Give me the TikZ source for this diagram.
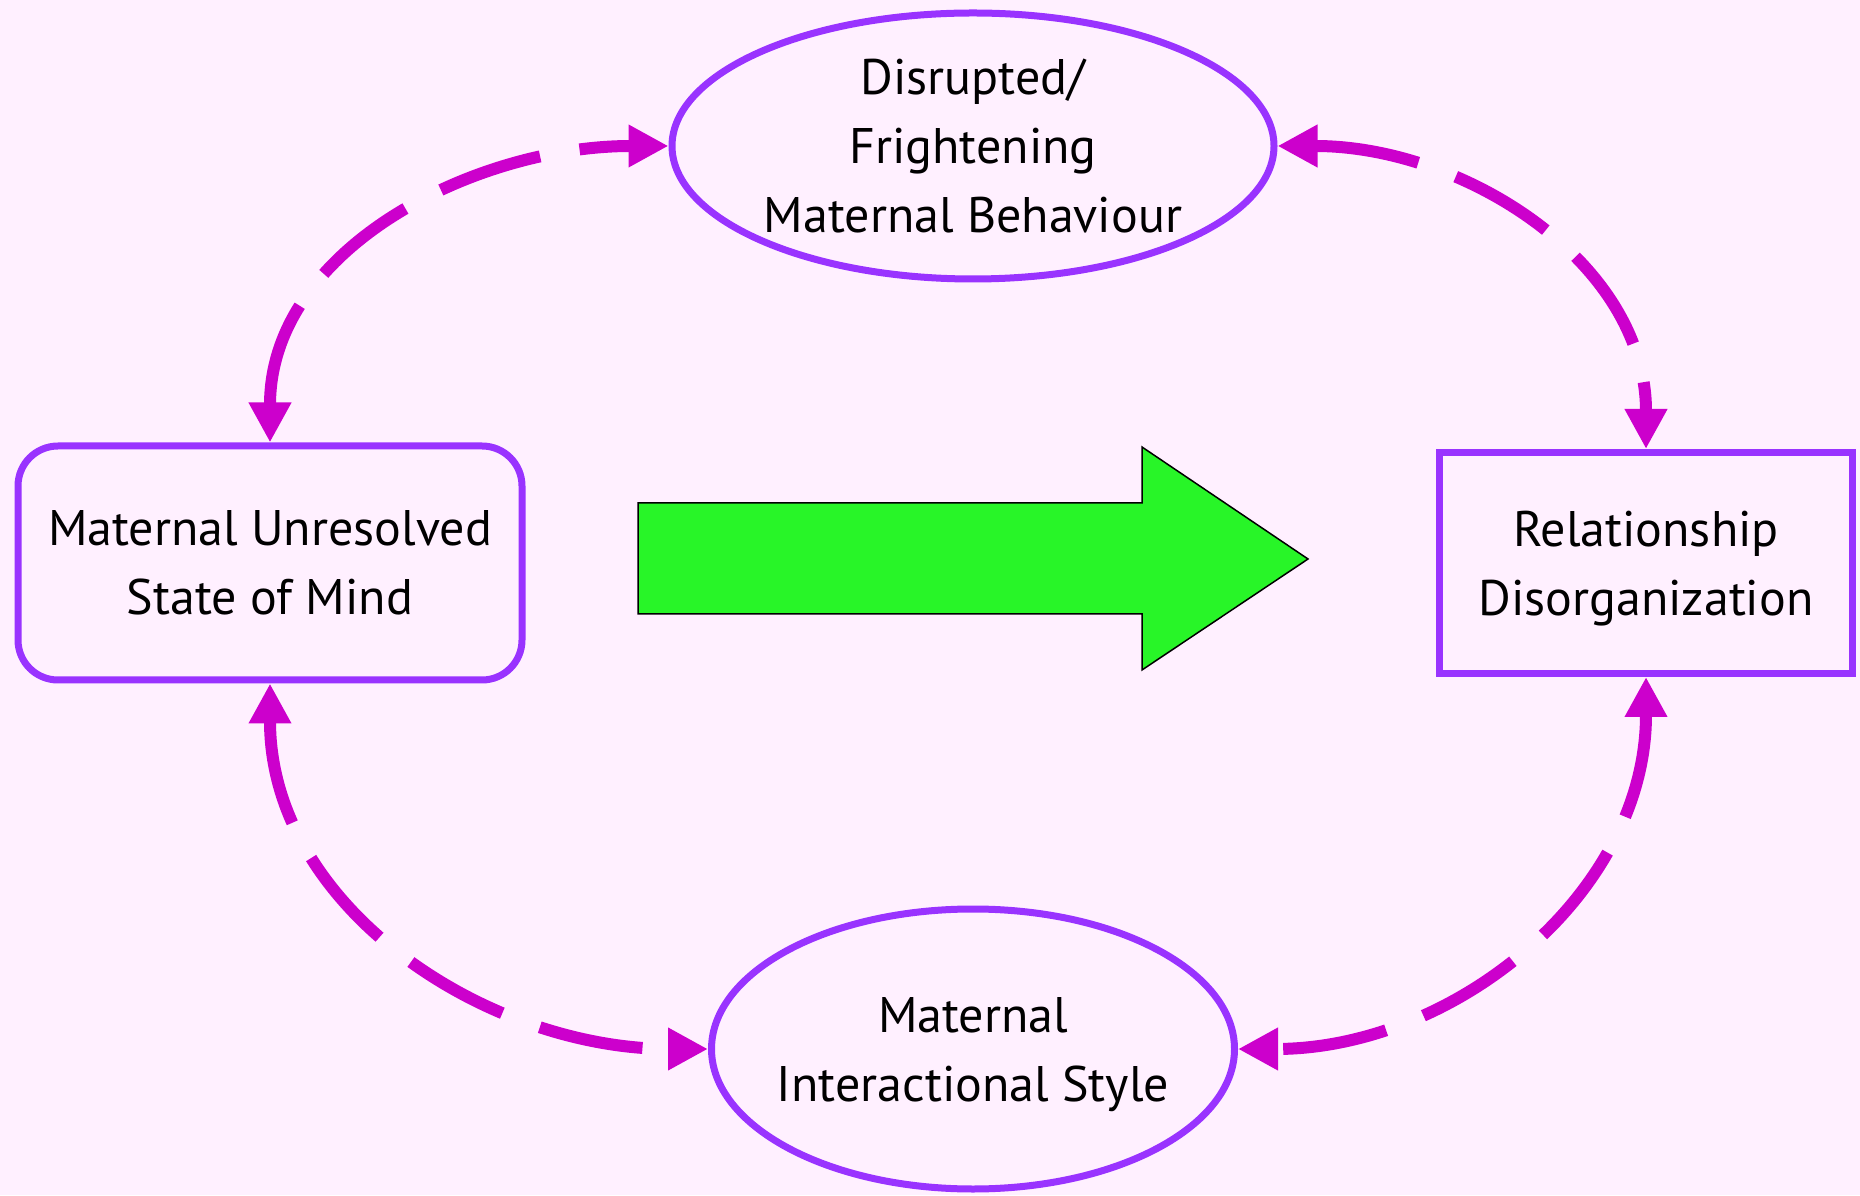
\documentclass[tikz,border=0pt]{standalone}
\usepackage{fontspec}
\setmainfont{PT Sans}
\usetikzlibrary{arrows.meta, shapes.geometric}

\definecolor{bgpink}{RGB}{255,240,255}
\definecolor{boxpurple}{RGB}{153,51,255}
\definecolor{linkmag}{RGB}{204,0,204}
\definecolor{bigarrow}{RGB}{40,245,40}

\begin{document}
\begin{tikzpicture}[x=1pt,y=1pt,>={Triangle[length=40pt,width=40pt]},
  box node/.style={draw=boxpurple,line width=7pt,inner sep=0pt,align=center,
    text depth=0pt,font=\fontsize{50}{69}\selectfont},
  oval node/.style={box node,ellipse,inner sep=-30pt},
  link/.style={<->,color=linkmag,line width=12pt,dash pattern=on 105pt off 40pt}]
  \fill[bgpink] (0,0) rectangle (1860,1195);
  \node[box node,rounded corners=40pt,minimum width=504pt,minimum height=234pt] (L) at (270,632) {Maternal Unresolved\\State of Mind};
  \node[box node,minimum width=413pt,minimum height=221pt] (R) at (1646,632) {Relationship\\Disorganization};
  \node[oval node,minimum width=602pt,minimum height=266pt] (T) at (973,1049) {Disrupted/\\Frightening\\Maternal Behaviour};
  \node[oval node,minimum width=523pt,minimum height=280pt] (B) at (973,146) {Maternal\\Interactional Style};
  % big arrow in the middle
  \draw[fill=bigarrow,line width=1.5pt] (638,692) -- (1142,692) -- (1142,748) -- (1308,636)
    -- (1142,525) -- (1142,581) -- (638,581) -- cycle;
  \path[link]
    (L.north) edge[out=90,in=180] (T.west)
    (T.east) edge[out=0,in=90] (R.north)
    (L.south) edge[out=-90,in=180] (B.west)
    (R.south) edge[out=-90,in=0] (B.east);
\end{tikzpicture}
\end{document}
